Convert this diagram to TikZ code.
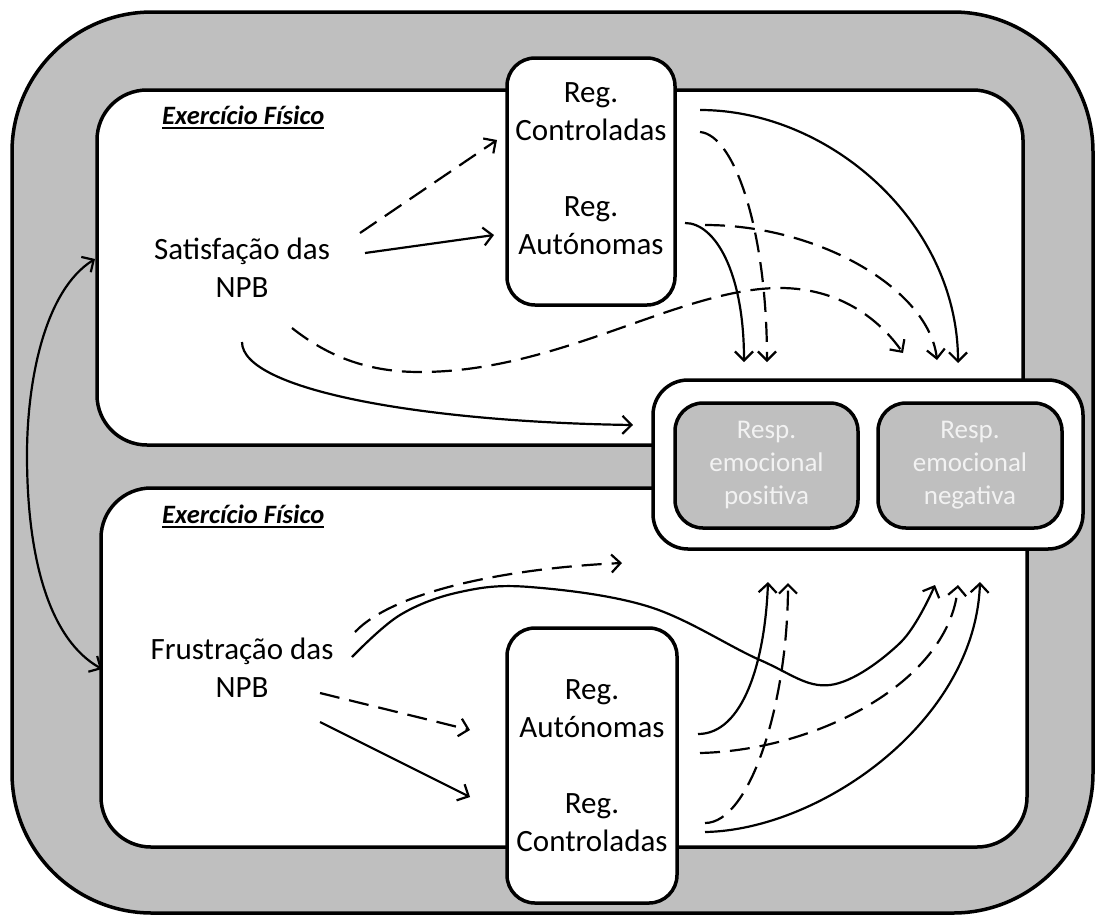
\documentclass[tikz,border=0pt]{standalone}
\usepackage{fontspec}
\setmainfont{Carlito}
\usetikzlibrary{arrows.meta}
\definecolor{panelgray}{HTML}{BFBFBF}
\definecolor{resptext}{HTML}{F2F2F2}
\begin{document}
\begin{tikzpicture}[x=1pt,y=-1pt,
  frame/.style={draw=black, line width=3.5pt},
  boxnode/.style={frame, fill=white, inner sep=0pt, outer sep=0pt},
  respbox/.style={frame, fill=panelgray, inner sep=0pt, outer sep=0pt, rounded corners=28pt,
     minimum height=125pt, text=resptext, align=center, font=\fontsize{27}{33}\selectfont},
  conn/.style={line width=2.2pt, -{Straight Barb[length=9pt,width=18pt]}},
  dconn/.style={conn, dash pattern=on 20pt off 10pt},
  bidir/.style={line width=2.2pt, {Straight Barb[length=9pt,width=18pt]}-{Straight Barb[length=9pt,width=18pt]}},
  bigtext/.style={font=\fontsize{31}{38}\selectfont, align=center, inner sep=0pt},
  titletext/.style={font=\fontsize{26.5}{30}\selectfont\bfseries\itshape, inner sep=0pt, anchor=west},
  uline/.style={line width=2pt}
]
\useasboundingbox (0,0) rectangle (1095,914);
% outer frame
\draw[frame, fill=panelgray, rounded corners=140pt] (12,12) rectangle (1093,913);
% panels
\node[boxnode, rounded corners=50pt, minimum width=926pt, minimum height=355pt] (ptop) at (560,267.5) {};
\node[boxnode, rounded corners=50pt, minimum width=926pt, minimum height=359pt] (pbot) at (564,667.5) {};
\node[titletext] (t1) at (162,115) {Exercício\ Físico};
\node[titletext] (t2) at (162,514) {Exercício\ Físico};
\draw[uline] ([yshift=-4pt]t1.base west) -- ([yshift=-4pt]t1.base east);
\draw[uline] ([yshift=-4pt]t2.base west) -- ([yshift=-4pt]t2.base east);
% regulation boxes
\node[boxnode, rounded corners=28pt, minimum width=168pt, minimum height=247pt] (rtop) at (591,181.5) {};
\node[boxnode, rounded corners=28pt, minimum width=170pt, minimum height=275pt] (rbot) at (592,765.5) {};
\node[bigtext] (rc1) at (591,112) {Reg.\\Controladas};
\node[bigtext] (ra1) at (591,226) {Reg.\\Autónomas};
\node[bigtext] (ra2) at (592,709) {Reg.\\Autónomas};
\node[bigtext] (rc2) at (592,823) {Reg.\\Controladas};
% NPB texts
\node[bigtext] (sat) at (242,268) {Satisfação das\\NPB};
\node[bigtext] (fru) at (242,668) {Frustração das\\NPB};
% emotional response box
\node[boxnode, rounded corners=35pt, minimum width=430pt, minimum height=169pt] (resp) at (868,464.5) {};
\node[respbox, minimum width=183pt] (pos) at (766.5,465.5) {Resp.\\emocional\\positiva};
\node[respbox, minimum width=184pt] (neg) at (970,465.5) {Resp.\\emocional\\negativa};
% connector end points
\coordinate (a1s) at (360,233); \coordinate (a1e) at (497,140);
\coordinate (a2s) at (365,253); \coordinate (a2e) at (494,235);
\coordinate (a3s) at (700,110); \coordinate (a3e) at (958,363);
\coordinate (a4s) at (700,132); \coordinate (a4e) at (767,362);
\coordinate (a5s) at (705,225); \coordinate (a5e) at (937,360);
\coordinate (a6s) at (685,223); \coordinate (a6e) at (744,362);
\coordinate (a7s) at (292,328); \coordinate (a7e) at (903,353);
\coordinate (a8s) at (242,342); \coordinate (a8e) at (633,425);
\coordinate (b1) at (95,259); \coordinate (b2) at (102,669);
\coordinate (a9s) at (355,632); \coordinate (a9e) at (622,563);
\coordinate (a10s) at (352,657); \coordinate (a10e) at (935,585);
\coordinate (a11s) at (320,693); \coordinate (a11e) at (470,730);
\coordinate (a12s) at (320,722); \coordinate (a12e) at (470,797);
\coordinate (a13s) at (698,734); \coordinate (a13e) at (768,582);
\coordinate (a14s) at (700,753); \coordinate (a14e) at (958,585);
\coordinate (a15s) at (705,823); \coordinate (a15e) at (788,583);
\coordinate (a16s) at (705,832); \coordinate (a16e) at (980,582);
% top panel connectors
\draw[dconn] (a1s) -- (a1e);
\draw[conn] (a2s) -- (a2e);
\draw[conn] (a3s) .. controls +(130,0) and +(0,-140) .. (a3e);
\draw[dconn] (a4s) .. controls +(35,3) and +(0,-130) .. (a4e);
\draw[dconn] (a5s) .. controls +(115,0) and +(-8,-70) .. (a5e);
\draw[conn] (a6s) .. controls +(30,0) and +(0,-90) .. (a6e);
\draw[dconn] (a7s) .. controls (330,358) and (370,372) .. (420,372)
   .. controls (560,372) and (680,288) .. (780,288)
   .. controls (840,288) and (880,320) .. (a7e);
\draw[conn] (a8s) .. controls +(0,48) and +(-210,-3) .. (a8e);
% link between panels
\draw[bidir] (b1) .. controls (45,290) and (27,380) .. (27,455)
   .. controls (27,560) and (50,640) .. (b2);
% bottom panel connectors
\draw[dconn] (a9s) .. controls +(40,-42) and +(-110,5) .. (a9e);
\draw[conn] plot[smooth, tension=0.6] coordinates {(a10s) (400,615) (460,592) (530,587) (650,607) (760,660) (830,685) (900,643) (a10e)};
\draw[dconn] (a11s) -- (a11e);
\draw[conn] (a12s) -- (a12e);
\draw[conn] (a13s) .. controls +(45,0) and +(-3,80) .. (a13e);
\draw[dconn] (a14s) .. controls +(120,-3) and +(-8,95) .. (a14e);
\draw[dconn] (a15s) .. controls +(45,0) and +(0,120) .. (a15e);
\draw[conn] (a16s) .. controls +(115,-2) and +(-5,140) .. (a16e);
\end{tikzpicture}
\end{document}
